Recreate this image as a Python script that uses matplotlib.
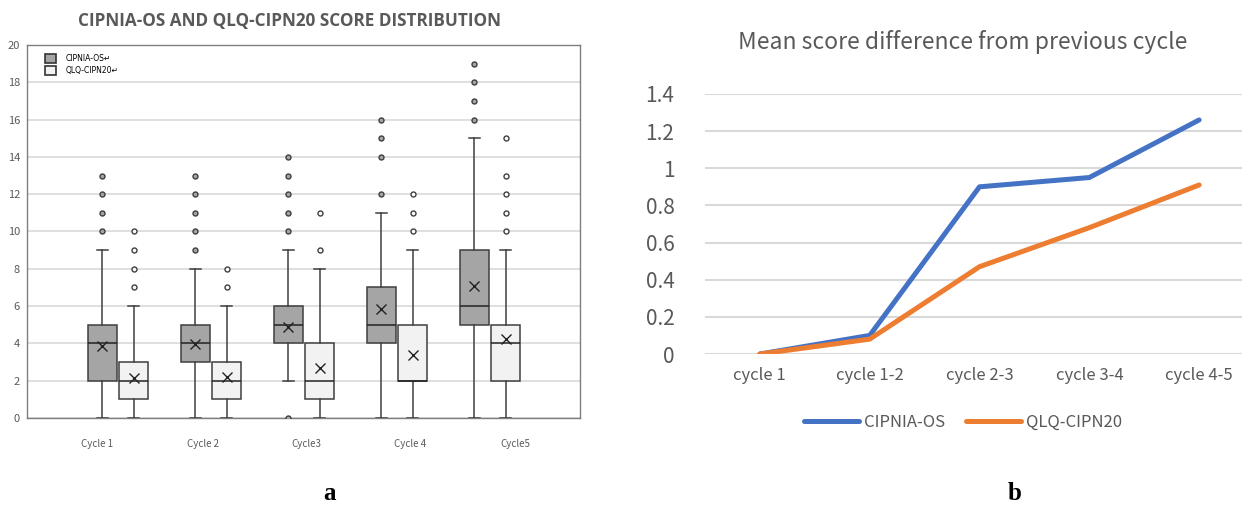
import numpy as np
import matplotlib
matplotlib.use("Agg")
import matplotlib.pyplot as plt
from matplotlib.patches import Patch

# ---- data: panel a (box plots) ----
cycles = ["Cycle 1", "Cycle 2", "Cycle3", "Cycle 4", "Cycle5"]
series_names = ["CIPNIA-OS", "QLQ-CIPN20"]

os_q1 = [2, 3, 4, 4, 5]
os_med = [4, 4, 5, 5, 6]
os_q3 = [5, 5, 6, 7, 9]
os_lo = [0, 0, 2, 0, 0]
os_hi = [9, 8, 9, 11, 15]
os_mean = [3.88, 3.98, 4.88, 5.83, 7.08]
os_fliers = [[10, 11, 12, 13], [9, 10, 11, 12, 13], [0, 10, 11, 12, 13, 14],
             [12, 14, 15, 16], [16, 17, 18, 19]]

qlq_q1 = [1, 1, 1, 2, 2]
qlq_med = [2, 2, 2, 2, 4]
qlq_q3 = [3, 3, 4, 5, 5]
qlq_lo = [0, 0, 0, 0, 0]
qlq_hi = [6, 6, 8, 9, 9]
qlq_mean = [2.15, 2.22, 2.7, 3.38, 4.25]
qlq_fliers = [[7, 8, 9, 10], [7, 8], [9, 11], [10, 11, 12], [10, 11, 12, 13, 15]]

# ---- data: panel b (lines) ----
steps = ["cycle 1", "cycle 1-2", "cycle 2-3", "cycle 3-4", "cycle 4-5"]
diff_os = [0, 0.10, 0.90, 0.95, 1.26]
diff_qlq = [0, 0.08, 0.47, 0.68, 0.91]

GRAY_TXT = "#595959"

fig = plt.figure(figsize=(12.42, 5.05), dpi=100)

# ================= panel a =================
ax1 = fig.add_axes([0.0217, 0.1723, 0.4453, 0.7387])


def make_stats(q1, med, q3, lo, hi, mean, fl):
    return [dict(q1=a, med=b, q3=c, whislo=d, whishi=e, mean=f, fliers=g)
            for a, b, c, d, e, f, g in zip(q1, med, q3, lo, hi, mean, fl)]


pos = np.arange(1, len(cycles) + 1)
off = 0.17
bw = 0.31
edge = "#3f3f3f"
for stats, p, face, fface in [
    (make_stats(os_q1, os_med, os_q3, os_lo, os_hi, os_mean, os_fliers), pos - off, "#a5a5a5", "#a5a5a5"),
    (make_stats(qlq_q1, qlq_med, qlq_q3, qlq_lo, qlq_hi, qlq_mean, qlq_fliers), pos + off, "#f2f2f2", "white"),
]:
    ax1.bxp(stats, positions=p, widths=bw, patch_artist=True, showmeans=True,
            boxprops=dict(facecolor=face, edgecolor=edge, linewidth=1.1),
            medianprops=dict(color="#222222", linewidth=1.1),
            whiskerprops=dict(color=edge, linewidth=1.1),
            capprops=dict(color=edge, linewidth=1.1),
            capwidths=0.12,
            meanprops=dict(marker="x", markeredgecolor="#222222", markersize=7, markeredgewidth=1.0),
            flierprops=dict(marker="o", markerfacecolor=fface, markeredgecolor=edge,
                            markersize=3.6, markeredgewidth=1.0),
            zorder=3)

ax1.set_xlim(0.0215, 5.968)
ax1.set_ylim(0, 20)
ax1.set_yticks(np.arange(0, 21, 2))
ax1.yaxis.grid(True, color="#d9d9d9", linewidth=1.2, zorder=0)
ax1.set_axisbelow(True)
for s in ax1.spines.values():
    s.set_color("#7f7f7f")
    s.set_linewidth(1.0)
ax1.tick_params(axis="y", length=0, pad=5, labelsize=8, labelcolor=GRAY_TXT)
label_pos = [0.77, 1.91, 3.03, 4.14, 5.27]
ax1.set_xticks(label_pos)
ax1.set_xticklabels(cycles, fontsize=7, color=GRAY_TXT, family="Noto Sans CJK SC")
ax1.tick_params(axis="x", length=0, pad=15)
for lab in ax1.get_yticklabels():
    lab.set_family("Noto Sans CJK SC")

# title sits a bit left of the axes centre in the original
fig.text(289 / 1242, 1 - 21 / 505, "CIPNIA-OS AND QLQ-CIPN20 SCORE DISTRIBUTION",
         ha="center", va="center", fontsize=12.3, fontweight="bold",
         color=GRAY_TXT, family="Open Sans")

handles = [Patch(facecolor="#a5a5a5", edgecolor="#333333", linewidth=1.2),
           Patch(facecolor="#f2f2f2", edgecolor="#333333", linewidth=1.2)]
ax1.legend(handles, [n + "\u21b5" for n in series_names], loc="upper left",
           bbox_to_anchor=(0.02, 0.995), frameon=False, fontsize=5.5,
           handlelength=1.4, handleheight=1.4, labelspacing=0.45, handletextpad=1.3)

# ================= panel b =================
ax2 = fig.add_axes([0.5676, 0.299, 0.4421, 0.515])
x = np.arange(len(steps))
ax2.plot(x, diff_os, color="#4472c4", linewidth=3.6, solid_capstyle="round",
         solid_joinstyle="round", label=series_names[0], zorder=3)
ax2.plot(x, diff_qlq, color="#ed7d31", linewidth=3.6, solid_capstyle="round",
         solid_joinstyle="round", label=series_names[1], zorder=3)
ax2.set_xlim(-0.5, 4.5)
ax2.set_ylim(0, 1.4)
yt = np.round(np.arange(0, 1.41, 0.2), 1)
ax2.set_yticks(yt)
ax2.set_yticklabels(["0" if v == 0 else ("1" if v == 1 else f"{v:g}") for v in yt])
ax2.yaxis.grid(True, color="#d9d9d9", linewidth=1.5, zorder=0)
ax2.set_axisbelow(True)
for s in ax2.spines.values():
    s.set_visible(False)
ax2.set_xticks(x)
ax2.set_xticklabels(steps)
ax2.tick_params(axis="y", length=0, pad=22, labelsize=15, labelcolor=GRAY_TXT)
ax2.tick_params(axis="x", length=0, pad=9, labelsize=12, labelcolor=GRAY_TXT)
for lab in ax2.get_xticklabels() + ax2.get_yticklabels():
    lab.set_family("Noto Sans CJK SC")
fig.text(0.7755, 0.916, "Mean score difference from previous cycle", ha="center", va="center",
         fontsize=16.5, color=GRAY_TXT, family="Noto Sans CJK SC")
leg = ax2.legend(loc="center", bbox_to_anchor=(0.47, -0.262), ncol=2, frameon=False,
                 handlelength=3.3, columnspacing=1.2, handletextpad=0.3,
                 prop=dict(family="Noto Sans CJK SC", size=12))
for t in leg.get_texts():
    t.set_color(GRAY_TXT)

# panel letters
fig.text(330 / 1242, 1 - 494 / 505, "a", ha="center", va="center", fontsize=18,
         fontweight="bold", family="Liberation Serif")
fig.text(1015 / 1242, 1 - 494 / 505, "b", ha="center", va="center", fontsize=18,
         fontweight="bold", family="Liberation Serif")

fig.savefig("out.png", dpi=100)
